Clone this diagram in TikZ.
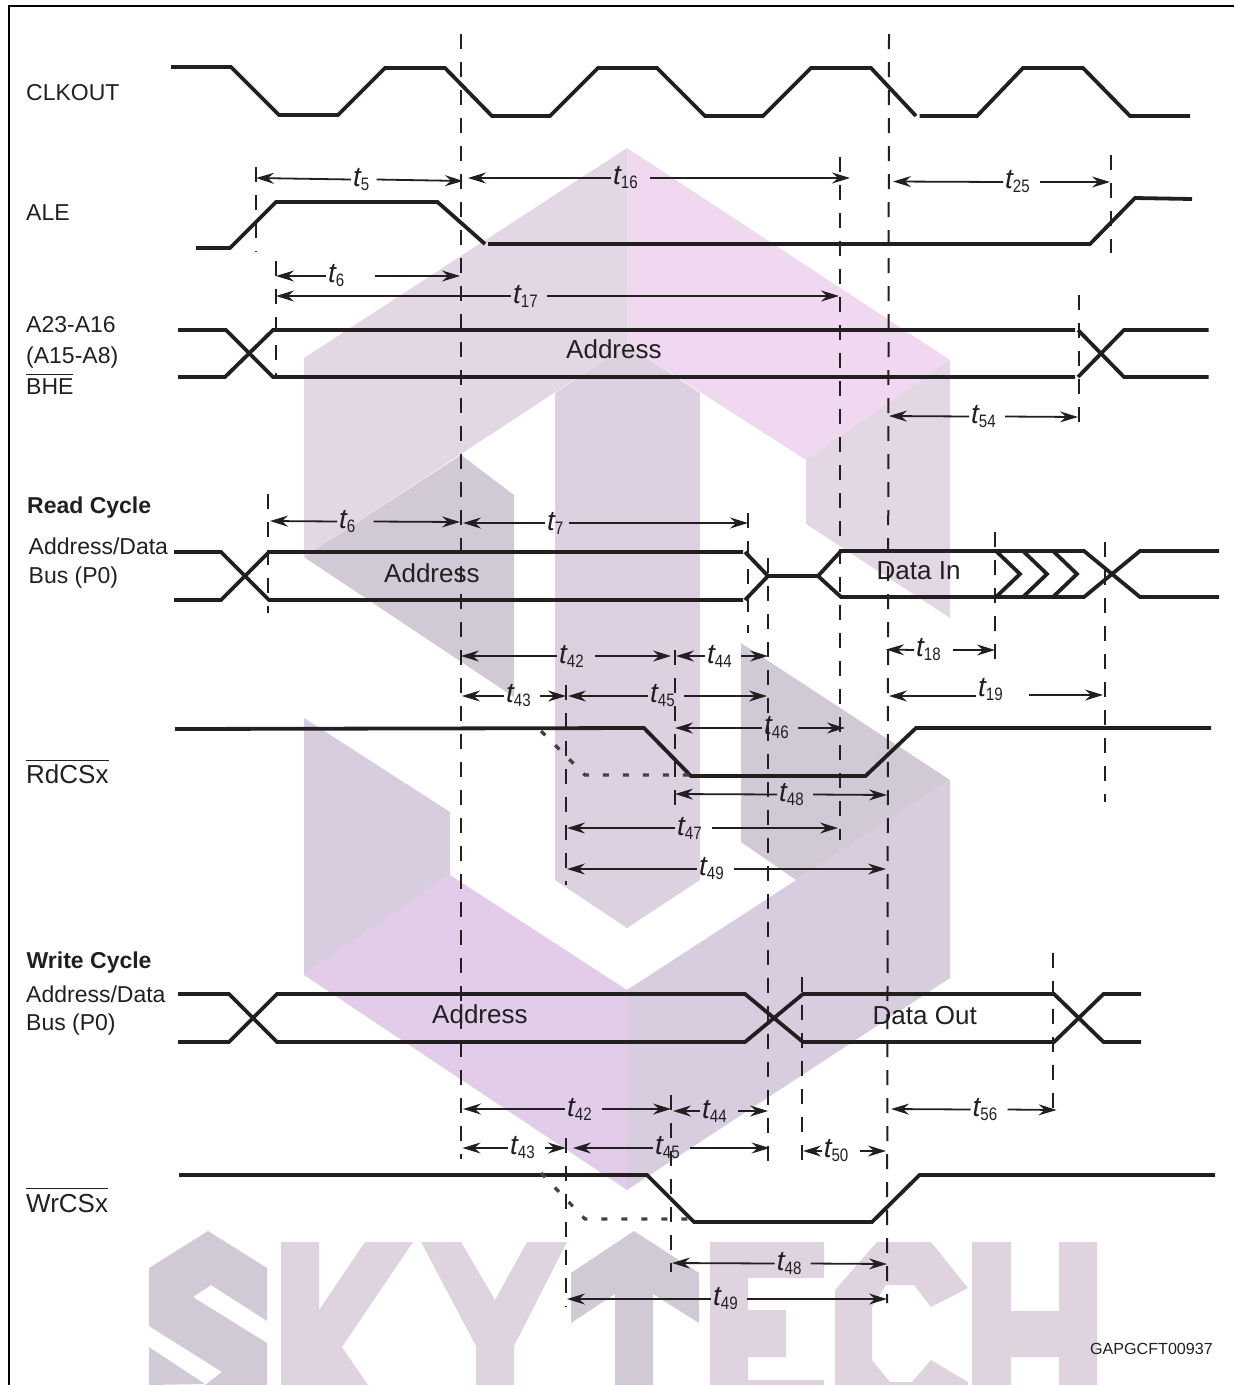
\documentclass[tikz,border=0pt]{standalone}
\usepackage{fontspec}
\setmainfont{Liberation Sans}
\usetikzlibrary{arrows.meta}
\definecolor{inkDark}{HTML}{231F20}
\definecolor{wmMauve}{HTML}{E3D6E5}
\definecolor{wmPink}{HTML}{F0D8F0}
\definecolor{wmLilac}{HTML}{E3CBEA}
\definecolor{wmGrey}{HTML}{D2C9D6}
\definecolor{wmDeep}{HTML}{D8CCDF}
\definecolor{wmColumn}{HTML}{DDD1E1}
\definecolor{wmLetter}{HTML}{DFD3E0}
\newcommand{\tsub}[1]{{\fontsize{28}{28}\selectfont\itshape t}\raisebox{-4pt}{\scalebox{0.84}[1]{\fontsize{18}{18}\selectfont #1}}}

\begin{document}
\begin{tikzpicture}[
      x=1pt, y=-1pt,
      sig/.style={inkDark, line width=3.8pt, line join=miter},
      dots/.style={inkDark!85, line width=3.3pt, dash pattern=on 6pt off 14pt},
      guide/.style={inkDark, line width=2pt, dash pattern=on 15pt off 13pt},
      dim/.style={inkDark, line width=1.8pt, -{Stealth[length=18pt,width=11pt,inset=6pt]}},
      tlab/.style={anchor=west, inner xsep=2pt, inner ysep=0pt, text=inkDark},
      lab/.style={anchor=base west, inner sep=0pt, text=inkDark, font=\fontsize{23}{27}\selectfont},
      big/.style={anchor=base west, inner sep=0pt, text=inkDark, font=\fontsize{26}{30}\selectfont},
      head/.style={anchor=base west, inner sep=0pt, text=inkDark, font=\fontsize{23}{27}\selectfont\bfseries}]
    \useasboundingbox (0,0) rectangle (1234,1385);

    % logo behind the drawing
    \fill[wmMauve] (304,358) -- (627,148) -- (627,345) -- (304,557) -- cycle;
    \fill[wmPink] (627,148) -- (950,360) -- (806,460) -- (627,345) -- cycle;
    \fill[wmMauve] (806,460) -- (950,360) -- (950,618) -- (806,524) -- cycle;
    \fill[wmGrey] (304,557) -- (461,455) -- (514,495) -- (514,697) -- cycle;
    \fill[wmColumn] (555,393) -- (627,345) -- (700,393) -- (700,880) -- (627,928) -- (555,880) -- cycle;
    \fill[wmDeep] (304,718) -- (450,812) -- (450,875) -- (304,975) -- cycle;
    \fill[wmLilac] (304,975) -- (450,875) -- (627,990) -- (627,1190) -- cycle;
    \fill[wmDeep] (627,990) -- (950,780) -- (950,978) -- (627,1190) -- cycle;
    \fill[wmGrey] (741,643) -- (950,780) -- (796,880) -- (741,842) -- cycle;

    % logo letters
    \fill[wmGrey] (149,1268) -- (208,1231) -- (267,1268) -- (267,1321) -- (211,1285) -- (193,1297) -- (267,1343)
      -- (267,1385) -- (205,1385) -- (222,1372) -- (149,1326) -- cycle;
    \fill[wmGrey] (149,1347) -- (205,1384) -- (149,1385) -- cycle;
    \fill[wmLetter] (281,1242) -- (319,1242) -- (319,1310) -- (365,1242) -- (413,1242) -- (342,1347) -- (368,1385) -- (281,1385) -- cycle;
    \fill[wmLetter] (421,1242) -- (461,1242) -- (495,1300) -- (527,1242) -- (567,1242) -- (514,1346) -- (514,1385) -- (476,1385) -- (476,1346) -- cycle;
    \fill[wmGrey] (571,1273) -- (634,1231) -- (699,1273) -- (699,1323) -- (653,1294) -- (653,1385) -- (615,1385) -- (615,1294) -- (571,1323) -- cycle;
    \fill[wmLetter] (710,1242) -- (824,1242) -- (824,1278) -- (748,1278) -- (748,1310) -- (786,1310) -- (786,1357) -- (748,1357)
      -- (748,1380) -- (824,1380) -- (824,1385) -- (710,1385) -- cycle;
    \fill[wmLetter] (877,1242) -- (931,1242) -- (968,1288) -- (931,1307) -- (914,1285) -- (886,1285) -- (872,1307) -- (872,1360)
      -- (890,1382) -- (912,1382) -- (931,1360) -- (968,1382) -- (968,1385) -- (835,1385) -- (835,1290) -- cycle;
    \fill[wmLetter] (972,1242) -- (1011,1242) -- (1011,1311) -- (1059,1311) -- (1059,1242) -- (1097,1242) -- (1097,1385)
      -- (1059,1385) -- (1059,1357) -- (1011,1357) -- (1011,1385) -- (972,1385) -- cycle;

    % frame
    \draw[black, line width=2pt] (8.5,1385) -- (8.5,6) -- (1234,6);

    % signal names
    \node[lab] (clkout) at (26,100) {CLKOUT};
    \node[lab] (ale) at (26,220) {ALE};
    \node[lab] (addrhi) at (26,332) {A23-A16};
    \node[lab] (addrlo) at (26,363) {(A15-A8)};
    \node[lab] (bhe) at (26,394) {$\overline{\mbox{\rule{0pt}{18.5pt}BHE}}$};
    \node[head] (readcyc) at (27,513) {Read Cycle};
    \node[lab] (rbus) at (28.5,554) {Address/Data};
    \node[lab] (rbusb) at (28.5,583) {Bus (P0)};
    \node[big] (rdcs) at (26,783) {$\overline{\mbox{\rule{0pt}{21.5pt}RdCSx}}$};
    \node[head] (writecyc) at (26.5,968) {Write Cycle};
    \node[lab] (wbus) at (26,1002) {Address/Data};
    \node[lab] (wbusb) at (26,1030) {Bus (P0)};
    \node[big] (wrcs) at (26,1212) {$\overline{\mbox{\rule{0pt}{22.5pt}WrCSx}}$};

    % texts on the buses
    \node[big] (addrtop) at (566,358.5) {Address};
    \node[big] (addrread) at (384,582) {Address};
    \node[big] (datain) at (876.5,579) {Data In};
    \node[big] (addrwrite) at (432,1023) {Address};
    \node[big] (dataout) at (872.5,1024) {Data Out};
    \node[anchor=base west, inner sep=0pt, text=inkDark, font=\fontsize{16.1}{20}\selectfont] (figid) at (1090,1354) {GAPGCFT00937};

    % waveforms
    \draw[sig] (171,67) -- (231,67) -- (279,115) -- (338,115) -- (385,68) -- (445,68) -- (492,116) -- (550,116) -- (598,68)
      -- (657,68) -- (705,116) -- (763,116) -- (811,68) -- (871,68) -- (916,116);
    \draw[sig] (919.5,116) -- (977,116) -- (1023,68) -- (1083,68) -- (1130,116) -- (1190,116);
    \draw[sig] (196,248) -- (230,248) -- (276,202) -- (437.5,202) -- (485,244);
    \draw[sig] (488,244) -- (1090,244) -- (1135,198) -- (1192,199);
    \draw[sig] (178,330) -- (226,330) -- (273,377) -- (1075,377);
    \draw[sig] (178,377) -- (225,377) -- (273,330) -- (1075,330);
    \draw[sig] (1078,330) -- (1124,377) -- (1208.5,377);
    \draw[sig] (1078,377) -- (1124,330) -- (1208.5,330);

    \draw[sig] (174,552) -- (221,552) -- (269,600) -- (743,600);
    \draw[sig] (174,600) -- (221,600) -- (269,552) -- (743,552);
    \draw[sig] (745,552) -- (768,576) -- (745,600);
    \draw[sig] (768,576) -- (818,576) -- (841,551) -- (1084,551) -- (1140,597) -- (1219,597);
    \draw[sig] (818,576) -- (841,597) -- (1084,597) -- (1140,551) -- (1219,551);
    \draw[sig] (996,551) -- (1020,574) -- (996,597);
    \draw[sig] (1023,551) -- (1047,574) -- (1023,597);
    \draw[sig] (1053,551) -- (1077,574) -- (1053,597);
    \draw[sig] (175,729) -- (644,728) -- (691,776) -- (865.5,776) -- (916,728) -- (1211,728);
    \draw[dots] (541,731) -- (585,775) -- (691,775);

    \draw[sig] (178,994) -- (229,994) -- (277,1042) -- (745,1042) -- (803,994) -- (1054,994) -- (1103.5,1042) -- (1141,1042);
    \draw[sig] (178,1042) -- (229,1042) -- (277,994) -- (745,994) -- (803,1042) -- (1054,1042) -- (1103.5,994) -- (1141,994);
    \draw[sig] (179,1175) -- (647,1175) -- (694,1222) -- (872,1222) -- (919.5,1175) -- (1215,1175);
    \draw[dots] (541,1173) -- (585,1219) -- (694,1219);

    % dashed guides
    \draw[guide] (461,34) -- (461,1159);
    \draw[guide] (889,34) -- (887,1303);
    \draw[guide] (256,167) -- (256,252);
    \draw[guide] (275.5,261) -- (275.5,378);
    \draw[guide] (840,157) -- (840,840);
    \draw[guide] (1110.5,155) -- (1110.5,253);
    \draw[guide] (1078.5,295) -- (1078.5,433);
    \draw[guide] (268,494) -- (268,613);
    \draw[guide] (748,513) -- (748,633);
    \draw[guide] (768,558) -- (768,1172);
    \draw[guide] (994.5,532) -- (994.5,660);
    \draw[guide] (1105,542) -- (1105,802);
    \draw[guide] (566,685) -- (566,885);
    \draw[guide] (674.5,650) -- (674.5,812);
    \draw[guide] (802,977) -- (802,1165);
    \draw[guide] (1053,953) -- (1053,1120);
    \draw[guide] (671,1095) -- (671,1272);
    \draw[guide] (566,1138) -- (566,1307);

    % timings, upper part
    \coordinate (t5a) at (256,178); \coordinate (t5b) at (463,181);
    \node[tlab] (t5) at (351,179.5) {\tsub{5}};
    \draw[dim] (t5.west) -- (t5a); \draw[dim] ([xshift=5pt]t5.east) -- (t5b);
    \coordinate (t16a) at (468,178); \coordinate (t16b) at (850,178);
    \node[tlab] (t16) at (611,178) {\tsub{16}};
    \draw[dim] (t16.west) -- (t16a); \draw[dim] ([xshift=10pt]t16.east) -- (t16b);
    \coordinate (t25a) at (893,181.5); \coordinate (t25b) at (1110,182);
    \node[tlab] (t25) at (1003,182) {\tsub{25}};
    \draw[dim] (t25.west) -- (t25a); \draw[dim] ([xshift=8pt]t25.east) -- (t25b);
    \coordinate (t6a) at (276,276); \coordinate (t6b) at (460,276);
    \node[tlab] (t6) at (326,276) {\tsub{6}};
    \draw[dim] (t6.west) -- (t6a); \draw[dim] ([xshift=28pt]t6.east) -- (t6b);
    \coordinate (t17a) at (276,296); \coordinate (t17b) at (839,296);
    \node[tlab] (t17) at (511,296) {\tsub{17}};
    \draw[dim] (t17.west) -- (t17a); \draw[dim] ([xshift=7pt]t17.east) -- (t17b);
    \coordinate (t54a) at (889,416); \coordinate (t54b) at (1078,417);
    \node[tlab] (t54) at (969,416.5) {\tsub{54}};
    \draw[dim] (t54.west) -- (t54a); \draw[dim] ([xshift=7pt]t54.east) -- (t54b);

    % timings, read cycle
    \coordinate (r6a) at (270,521); \coordinate (r6b) at (460,522);
    \node[tlab] (r6) at (337,521.5) {\tsub{6}};
    \draw[dim] (r6.west) -- (r6a); \draw[dim] ([xshift=16pt]r6.east) -- (r6b);
    \coordinate (r7a) at (463,523); \coordinate (r7b) at (748,523);
    \node[tlab] (r7) at (545,523) {\tsub{7}};
    \draw[dim] (r7.west) -- (r7a); \draw[dim] ([xshift=3pt]r7.east) -- (r7b);
    \coordinate (r42a) at (461,656); \coordinate (r42b) at (671,656);
    \node[tlab] (r42) at (557,656) {\tsub{42}};
    \draw[dim] (r42.west) -- (r42a); \draw[dim] ([xshift=9pt]r42.east) -- (r42b);
    \coordinate (r44a) at (676,656); \coordinate (r44b) at (768,656);
    \node[tlab] (r44) at (705,656) {\tsub{44}};
    \draw[dim] (r44.west) -- (r44a); \draw[dim] ([xshift=7pt]r44.east) -- (r44b);
    \coordinate (r43a) at (462,696); \coordinate (r43b) at (566,696);
    \node[tlab] (r43) at (504,696) {\tsub{43}};
    \draw[dim] (r43.west) -- (r43a); \draw[dim] ([xshift=7pt]r43.east) -- (r43b);
    \coordinate (r45a) at (568,696); \coordinate (r45b) at (767,696);
    \node[tlab] (r45) at (648,696) {\tsub{45}};
    \draw[dim] (r45.west) -- (r45a); \draw[dim] ([xshift=7pt]r45.east) -- (r45b);
    \coordinate (r46a) at (675,728); \coordinate (r46b) at (845,728);
    \node[tlab] (r46) at (762,728) {\tsub{46}};
    \draw[dim] (r46.west) -- (r46a); \draw[dim] ([xshift=7pt]r46.east) -- (r46b);
    \coordinate (r48a) at (675,794); \coordinate (r48b) at (887,795);
    \node[tlab] (r48) at (777,794.5) {\tsub{48}};
    \draw[dim] (r48.west) -- (r48a); \draw[dim] ([xshift=7pt]r48.east) -- (r48b);
    \coordinate (r47a) at (567,828); \coordinate (r47b) at (838,828);
    \node[tlab] (r47) at (675,828) {\tsub{47}};
    \draw[dim] (r47.west) -- (r47a); \draw[dim] ([xshift=8pt]r47.east) -- (r47b);
    \coordinate (r49a) at (567,869); \coordinate (r49b) at (886,869);
    \node[tlab] (r49) at (697,869) {\tsub{49}};
    \draw[dim] (r49.west) -- (r49a); \draw[dim] ([xshift=8pt]r49.east) -- (r49b);
    \coordinate (r18a) at (886,649.5); \coordinate (r18b) at (995,650);
    \node[tlab] (r18) at (914,650) {\tsub{18}};
    \draw[dim] (r18.west) -- (r18a); \draw[dim] ([xshift=10pt]r18.east) -- (r18b);
    \coordinate (r19a) at (889,696); \coordinate (r19b) at (1103,695);
    \node[tlab] (r19) at (976,690) {\tsub{19}};
    \draw[dim] (r19.west |- r19a) -- (r19a); \draw[dim] ([xshift=24pt]r19.east |- r19b) -- (r19b);

    % timings, write cycle
    \coordinate (w42a) at (463,1109); \coordinate (w42b) at (671,1109);
    \node[tlab] (w42) at (565,1109) {\tsub{42}};
    \draw[dim] (w42.west) -- (w42a); \draw[dim] ([xshift=8pt]w42.east) -- (w42b);
    \coordinate (w44a) at (673,1111); \coordinate (w44b) at (768,1111);
    \node[tlab] (w44) at (700,1111) {\tsub{44}};
    \draw[dim] (w44.west) -- (w44a); \draw[dim] ([xshift=9pt]w44.east) -- (w44b);
    \coordinate (w43a) at (462.5,1148); \coordinate (w43b) at (566,1148);
    \node[tlab] (w43) at (508,1148) {\tsub{43}};
    \draw[dim] (w43.west) -- (w43a); \draw[dim] ([xshift=8pt]w43.east) -- (w43b);
    \coordinate (w45a) at (573,1148); \coordinate (w45b) at (769.6,1148);
    \node[tlab] (w45) at (653,1148) {\tsub{45}};
    \draw[dim] (w45.west) -- (w45a); \draw[dim] ([xshift=8pt]w45.east) -- (w45b);
    \coordinate (w50a) at (803,1151); \coordinate (w50b) at (886,1151);
    \node[tlab] (w50) at (821.6,1151) {\tsub{50}};
    \draw[dim] (w50.west) -- (w50a); \draw[dim] ([xshift=9pt]w50.east) -- (w50b);
    \coordinate (w56a) at (891,1109); \coordinate (w56b) at (1056.6,1110);
    \node[tlab] (w56) at (970.5,1109.5) {\tsub{56}};
    \draw[dim] (w56.west) -- (w56a); \draw[dim] ([xshift=8pt]w56.east) -- (w56b);
    \coordinate (w48a) at (672,1263); \coordinate (w48b) at (887,1264);
    \node[tlab] (w48) at (774.7,1263.5) {\tsub{48}};
    \draw[dim] (w48.west) -- (w48a); \draw[dim] ([xshift=7pt]w48.east) -- (w48b);
    \coordinate (w49a) at (567,1299); \coordinate (w49b) at (887,1299);
    \node[tlab] (w49) at (711,1299) {\tsub{49}};
    \draw[dim] (w49.west) -- (w49a); \draw[dim] ([xshift=7pt]w49.east) -- (w49b);
\end{tikzpicture}
\end{document}
